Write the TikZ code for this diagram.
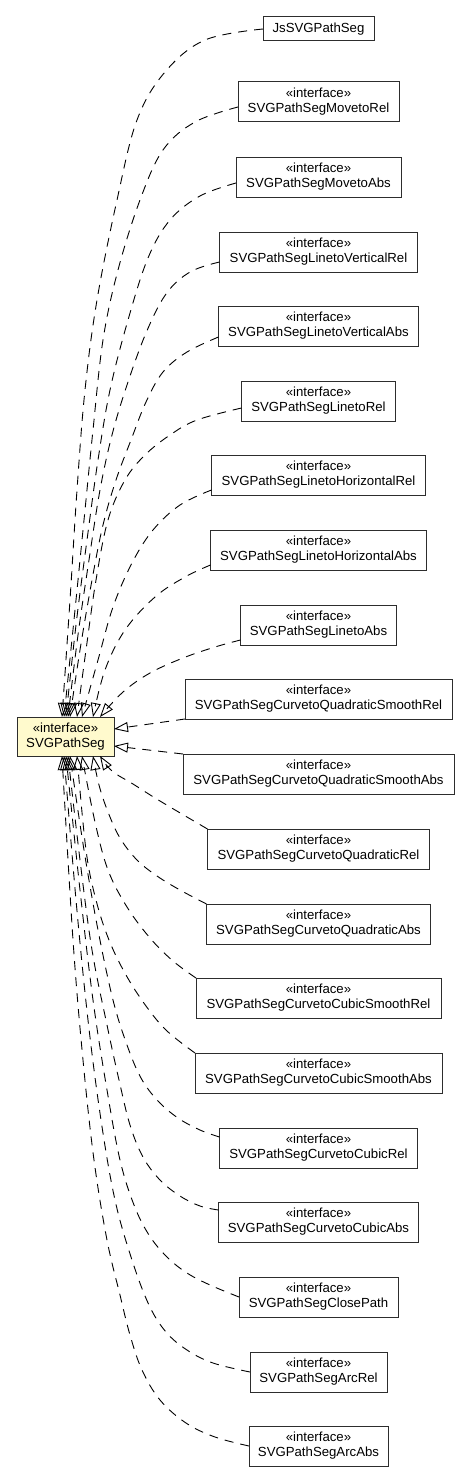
\documentclass[tikz,border=0pt]{standalone}
\usepackage{fontspec}
\setmainfont{Liberation Sans}
\usetikzlibrary{arrows.meta}
\definecolor{lemon}{RGB}{255,250,205}
\definecolor{boxline}{RGB}{45,45,45}
\tikzset{
  cls/.style={draw=boxline, line width=1pt, fill=white, inner sep=0pt, outer sep=0pt,
    minimum height=40pt, align=center, font=\fontsize{13.2}{15}\selectfont},
  iface/.style={cls, fill=lemon},
  rel/.style={draw=black, line width=0.9pt, dash pattern=on 9pt off 7pt,
    -{Triangle[open, length=14pt, width=10pt, line width=0.9pt]}},
  sm/.style={smooth, tension=0.6}
}
\begin{document}
\begin{tikzpicture}[x=1pt, y=-1pt]
\useasboundingbox (0,0) rectangle (469,1477);
\node[iface, minimum width=97pt, minimum height=39pt] (svg) at (65.5,736.5) {«interface»\\SVGPathSeg};
\node[cls, minimum width=111pt, minimum height=24pt] (js) at (318.5,29) {JsSVGPathSeg};
\node[cls, minimum width=161pt] (mr) at (318.5,102) {«interface»\\SVGPathSegMovetoRel};
\node[cls, minimum width=165pt] (ma) at (318.5,177) {«interface»\\SVGPathSegMovetoAbs};
\node[cls, minimum width=198pt] (vr) at (318.5,252) {«interface»\\SVGPathSegLinetoVerticalRel};
\node[cls, minimum width=200pt] (va) at (318.5,326) {«interface»\\SVGPathSegLinetoVerticalAbs};
\node[cls, minimum width=154pt] (lr) at (318.5,401) {«interface»\\SVGPathSegLinetoRel};
\node[cls, minimum width=214pt] (hr) at (318.5,475) {«interface»\\SVGPathSegLinetoHorizontalRel};
\node[cls, minimum width=216pt] (ha) at (318.5,550) {«interface»\\SVGPathSegLinetoHorizontalAbs};
\node[cls, minimum width=156pt] (la) at (318.5,625) {«interface»\\SVGPathSegLinetoAbs};
\node[cls, minimum width=267pt] (qsr) at (318.5,699) {«interface»\\SVGPathSegCurvetoQuadraticSmoothRel};
\node[cls, minimum width=271pt] (qsa) at (318.5,774) {«interface»\\SVGPathSegCurvetoQuadraticSmoothAbs};
\node[cls, minimum width=222pt] (qr) at (318.5,849) {«interface»\\SVGPathSegCurvetoQuadraticRel};
\node[cls, minimum width=224pt] (qa) at (318.5,924) {«interface»\\SVGPathSegCurvetoQuadraticAbs};
\node[cls, minimum width=245pt] (csr) at (318.5,998) {«interface»\\SVGPathSegCurvetoCubicSmoothRel};
\node[cls, minimum width=247pt] (csa) at (318.5,1073) {«interface»\\SVGPathSegCurvetoCubicSmoothAbs};
\node[cls, minimum width=198pt] (cr) at (318.5,1148) {«interface»\\SVGPathSegCurvetoCubicRel};
\node[cls, minimum width=200pt] (ca) at (318.5,1222) {«interface»\\SVGPathSegCurvetoCubicAbs};
\node[cls, minimum width=159pt] (cp) at (318.5,1297) {«interface»\\SVGPathSegClosePath};
\node[cls, minimum width=137pt] (ar) at (318.5,1372) {«interface»\\SVGPathSegArcRel};
\node[cls, minimum width=139pt] (aa) at (318.5,1446) {«interface»\\SVGPathSegArcAbs};
% end points on SVGPathSeg
\coordinate (tn1) at ([xshift=45pt]svg.north west);
\coordinate (tn2) at ([xshift=47pt]svg.north west);
\coordinate (tn3) at ([xshift=49pt]svg.north west);
\coordinate (tn4) at ([xshift=51pt]svg.north west);
\coordinate (tn5) at ([xshift=53pt]svg.north west);
\coordinate (tn6) at ([xshift=60pt]svg.north west);
\coordinate (tn7) at ([xshift=65pt]svg.north west);
\coordinate (tn8) at ([xshift=76pt]svg.north west);
\coordinate (tn9) at ([xshift=83pt]svg.north west);
\coordinate (re1) at ([yshift=7.5pt]svg.east);
\coordinate (re2) at ([yshift=-9.5pt]svg.east);
\coordinate (bn1) at ([xshift=83pt]svg.south west);
\coordinate (bn2) at ([xshift=76pt]svg.south west);
\coordinate (bn3) at ([xshift=65pt]svg.south west);
\coordinate (bn4) at ([xshift=60pt]svg.south west);
\coordinate (bn5) at ([xshift=53pt]svg.south west);
\coordinate (bn6) at ([xshift=51pt]svg.south west);
\coordinate (bn7) at ([xshift=49pt]svg.south west);
\coordinate (bn8) at ([xshift=47pt]svg.south west);
\coordinate (bn9) at ([xshift=45pt]svg.south west);
% top edges
\draw[rel] plot[sm] coordinates {(js.west) (205,40) (165,72) (137,120) (117,200) (97,300) (85,390) (77,490) (70,600) (tn1)};
\draw[rel] plot[sm] coordinates {([yshift=-5pt]mr.west) (195,122) (163,150) (140,200) (118,270) (103,340) (93,430) (85,510) (75,610) (tn2)};
\draw[rel] plot[sm] coordinates {([yshift=-6pt]ma.west) (200,196) (170,220) (148,258) (128,320) (110,390) (98,460) (87,540) (76,625) (tn3)};
\draw[rel] plot[sm] coordinates {([yshift=-10pt]vr.west) (190,272) (166,294) (146,333) (127,385) (112,435) (100,490) (89,560) (78,635) (tn4)};
\draw[rel] plot[sm] coordinates {([yshift=-11pt]va.west) (187,352) (163,372) (146,402) (131,440) (116,480) (103,525) (92,580) (80,650) (tn5)};
\draw[rel] plot[sm] coordinates {([yshift=-7pt]lr.west) (197,420) (170,435) (145,455) (125,480) (108,520) (96,580) (86,650) (tn6)};
\draw[rel] plot[sm] coordinates {([yshift=-15pt]hr.west) (180,505) (153,530) (132,563) (113,607) (98,660) (tn7)};
\draw[rel] plot[sm] coordinates {([yshift=-15pt]ha.west) (185,577) (155,597) (125,630) (105,670) (tn8)};
\draw[rel] plot[sm] coordinates {([yshift=-15pt]la.west) (215,647) (183,658) (150,673) (123,692) (tn9)};
% side edges
\draw[rel] (qsr.south west) -- (re1);
\draw[rel] (qsa.north west) -- (re2);
% bottom edges
\draw[rel] plot[sm] coordinates {(qr.north west) (160,801) (133,784) (112,771) (bn1)};
\draw[rel] plot[sm] coordinates {(qa.north west) (180,890) (157,876) (137,860) (120,838) (108,812) (99,785) (bn2)};
\draw[rel] plot[sm] coordinates {(csr.north west) (173,961) (150,938) (127,907) (108,870) (95,822) (bn3)};
\draw[rel] plot[sm] coordinates {(csa.north west) (167,1031) (146,1006) (126,975) (109,940) (96,900) (86,850) (bn4)};
\draw[rel] plot[sm] coordinates {([yshift=11pt]cr.west) (200,1130) (178,1118) (158,1101) (141,1078) (127,1045) (113,1000) (98,930) (84,850) (bn5)};
\draw[rel] plot[sm] coordinates {([yshift=12pt]ca.west) (200,1206) (180,1196) (160,1180) (143,1157) (130,1125) (119,1080) (107,1025) (92,950) (80,860) (bn6)};
\draw[rel] plot[sm] coordinates {(cp.west) (210,1285) (187,1273) (167,1257) (149,1235) (134,1205) (120,1160) (107,1090) (93,1000) (80,890) (bn7)};
\draw[rel] plot[sm] coordinates {(ar.west) (213,1363) (187,1350) (166,1332) (149,1305) (132,1260) (115,1200) (101,1120) (88,1020) (76,900) (bn8)};
\draw[rel] plot[sm] coordinates {(aa.west) (215,1437) (186,1423) (160,1400) (142,1370) (130,1335) (120,1295) (107,1240) (94,1160) (83,1060) (73,940) (bn9)};
\end{tikzpicture}
\end{document}
